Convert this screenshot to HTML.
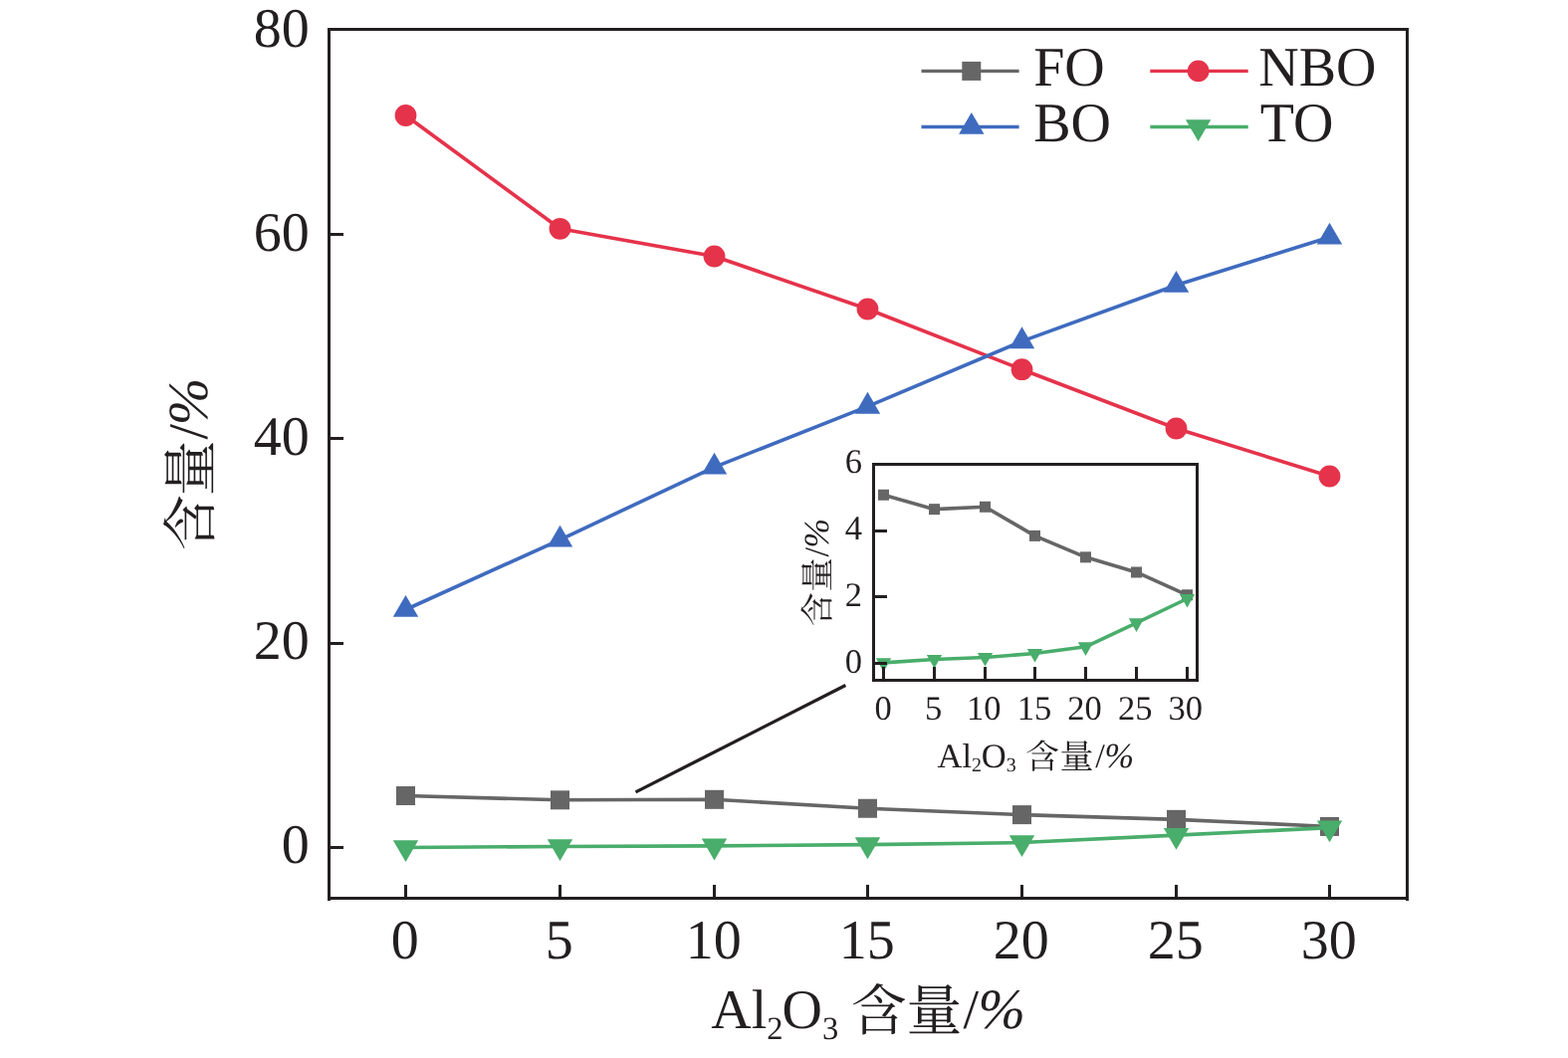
<!DOCTYPE html>
<html lang="zh-CN">
<head>
<meta charset="utf-8">
<title>Al2O3 含量 - FO / NBO / BO / TO 含量</title>
<style>
html,body{margin:0;padding:0;background:#fff;}
body{width:1575px;height:1063px;overflow:hidden;}
svg{display:block;}
svg text{font-family:"Liberation Serif", "Noto Serif CJK SC", serif;fill:#231f20;text-rendering:geometricPrecision;}
</style>
</head>
<body>
<svg width="1575" height="1063" viewBox="0 0 1575 1063">
<rect width="1575" height="1063" fill="#ffffff"/>
<g id="main-axes" stroke="#231f20" stroke-width="3" fill="none" stroke-linecap="butt">
<rect x="330.5" y="29.5" width="1083" height="873"/>
<line x1="330.5" y1="902.5" x2="330.5" y2="905"/>
<line x1="1413.5" y1="902.5" x2="1413.5" y2="905"/>
<line x1="330.5" y1="851.5" x2="345" y2="851.5"/>
<line x1="330.5" y1="646.5" x2="345" y2="646.5"/>
<line x1="330.5" y1="440.5" x2="345" y2="440.5"/>
<line x1="330.5" y1="235.5" x2="345" y2="235.5"/>
<line x1="407.5" y1="902.5" x2="407.5" y2="889"/>
<line x1="562.5" y1="902.5" x2="562.5" y2="889"/>
<line x1="717.5" y1="902.5" x2="717.5" y2="889"/>
<line x1="871.5" y1="902.5" x2="871.5" y2="889"/>
<line x1="1026.5" y1="902.5" x2="1026.5" y2="889"/>
<line x1="1181.5" y1="902.5" x2="1181.5" y2="889"/>
<line x1="1335.5" y1="902.5" x2="1335.5" y2="889"/>
</g>
<g id="main-ticklabels">
<text x="310.8" y="47.2" font-size="56" text-anchor="end">80</text>
<text x="310.8" y="252.35" font-size="56" text-anchor="end">60</text>
<text x="310.8" y="457.35" font-size="56" text-anchor="end">40</text>
<text x="310.8" y="662.2" font-size="56" text-anchor="end">20</text>
<text x="310.8" y="867.25" font-size="56" text-anchor="end">0</text>
<text x="406.7" y="962.9" font-size="56" text-anchor="middle">0</text>
<text x="561.7" y="962.9" font-size="56" text-anchor="middle">5</text>
<text x="716.7" y="962.9" font-size="56" text-anchor="middle">10</text>
<text x="870.7" y="962.9" font-size="56" text-anchor="middle">15</text>
<text x="1025.7" y="962.9" font-size="56" text-anchor="middle">20</text>
<text x="1180.7" y="962.9" font-size="56" text-anchor="middle">25</text>
<text x="1334.7" y="962.9" font-size="56" text-anchor="middle">30</text>
</g>
<g id="main-titles">
<text y="1032.9" font-size="56"><tspan x="714.2">Al</tspan><tspan font-size="32.5" dy="10.6">2</tspan><tspan dy="-10.6" dx="-0.9">O</tspan><tspan font-size="32.5" dy="10.6">3</tspan></text>
<text x="854.65 910.55" y="1034.6" font-size="55.8">含量</text>
<text x="967.4" y="1032.9" font-size="56">/<tspan font-style="italic" font-size="57" dx="-0.5">%</tspan></text>
<g transform="translate(208.4 553.1) rotate(-90)">
<text x="0 54.9" y="2.4" font-size="55.8">含量</text>
<text x="111.6" y="0" font-size="56">/<tspan font-style="italic" font-size="57" dx="-1.3">%</tspan></text>
</g>
</g>
<g id="series-nbo">
<polyline fill="none" stroke="#e5334b" stroke-width="3.6" stroke-linejoin="round" points="407.5,116 562.5,229.8 717.5,257.5 871.5,310.5 1026.5,371.2 1181.5,430.5 1335.5,478.5"/>
<circle cx="407.5" cy="116" r="10.9" fill="#e5334b"/>
<circle cx="562.5" cy="229.8" r="10.9" fill="#e5334b"/>
<circle cx="717.5" cy="257.5" r="10.9" fill="#e5334b"/>
<circle cx="871.5" cy="310.5" r="10.9" fill="#e5334b"/>
<circle cx="1026.5" cy="371.2" r="10.9" fill="#e5334b"/>
<circle cx="1181.5" cy="430.5" r="10.9" fill="#e5334b"/>
<circle cx="1335.5" cy="478.5" r="10.9" fill="#e5334b"/>
</g>
<g id="series-bo">
<polyline fill="none" stroke="#3f6bbf" stroke-width="3.6" stroke-linejoin="round" points="407.5,612.5 562.5,542.3 717.5,469.3 871.5,408.4 1026.5,342.9 1181.5,286.5 1335.5,238.2"/>
<polygon fill="#3f6bbf" points="407.5,597.97 420.2,619.77 394.8,619.77"/>
<polygon fill="#3f6bbf" points="562.5,527.77 575.2,549.57 549.8,549.57"/>
<polygon fill="#3f6bbf" points="717.5,454.77 730.2,476.57 704.8,476.57"/>
<polygon fill="#3f6bbf" points="871.5,393.87 884.2,415.67 858.8,415.67"/>
<polygon fill="#3f6bbf" points="1026.5,328.37 1039.2,350.17 1013.8,350.17"/>
<polygon fill="#3f6bbf" points="1181.5,271.97 1194.2,293.77 1168.8,293.77"/>
<polygon fill="#3f6bbf" points="1335.5,223.67 1348.2,245.47 1322.8,245.47"/>
</g>
<g id="series-fo">
<polyline fill="none" stroke="#666666" stroke-width="3.6" stroke-linejoin="round" points="407.5,799.51 562.5,803.82 717.5,803.31 871.5,812.25 1026.5,818.62 1181.5,823.35 1335.5,830.44"/>
<rect x="398" y="790.01" width="19" height="19" fill="#666666"/>
<rect x="553" y="794.32" width="19" height="19" fill="#666666"/>
<rect x="708" y="793.81" width="19" height="19" fill="#666666"/>
<rect x="862" y="802.75" width="19" height="19" fill="#666666"/>
<rect x="1017" y="809.12" width="19" height="19" fill="#666666"/>
<rect x="1172" y="813.85" width="19" height="19" fill="#666666"/>
<rect x="1326" y="820.94" width="19" height="19" fill="#666666"/>
</g>
<g id="series-to">
<polyline fill="none" stroke="#49ad6b" stroke-width="3.6" stroke-linejoin="round" points="407.5,851.5 562.5,850.47 717.5,849.86 871.5,848.62 1026.5,846.57 1181.5,839.17 1335.5,831.67"/>
<polygon fill="#49ad6b" points="407.5,866.03 420.2,844.23 394.8,844.23"/>
<polygon fill="#49ad6b" points="562.5,865.01 575.2,843.21 549.8,843.21"/>
<polygon fill="#49ad6b" points="717.5,864.39 730.2,842.59 704.8,842.59"/>
<polygon fill="#49ad6b" points="871.5,863.16 884.2,841.36 858.8,841.36"/>
<polygon fill="#49ad6b" points="1026.5,861.1 1039.2,839.3 1013.8,839.3"/>
<polygon fill="#49ad6b" points="1181.5,853.7 1194.2,831.9 1168.8,831.9"/>
<polygon fill="#49ad6b" points="1335.5,846.2 1348.2,824.4 1322.8,824.4"/>
</g>
<line id="pointer" x1="638.5" y1="795.9" x2="849.4" y2="688.5" stroke="#231f20" stroke-width="3.3"/>
<g id="legend">
<line x1="925.5" y1="71.4" x2="1023.6" y2="71.4" stroke="#666666" stroke-width="3.3"/>
<rect x="966.3" y="61.9" width="19" height="19" fill="#666666"/>
<text x="1038.2" y="86.3" font-size="56" text-anchor="start">FO</text>
<line x1="1155.3" y1="71.4" x2="1253.7" y2="71.4" stroke="#e5334b" stroke-width="3.3"/>
<circle cx="1203.6" cy="71.4" r="10.9" fill="#e5334b"/>
<text x="1264.3" y="86.3" font-size="56" text-anchor="start">NBO</text>
<line x1="925.5" y1="127.5" x2="1023.6" y2="127.5" stroke="#3f6bbf" stroke-width="3.3"/>
<polygon fill="#3f6bbf" points="975.8,112.97 988.5,134.77 963.1,134.77"/>
<text x="1038.2" y="141.5" font-size="56" text-anchor="start">BO</text>
<line x1="1155.3" y1="127.5" x2="1253.7" y2="127.5" stroke="#49ad6b" stroke-width="3.3"/>
<polygon fill="#49ad6b" points="1203.6,142.03 1216.3,120.23 1190.9,120.23"/>
<text x="1265.8" y="141.5" font-size="56" text-anchor="start">TO</text>
</g>
<rect x="877.5" y="466.5" width="325" height="217" fill="#ffffff"/>
<g id="inset-fo">
<polyline fill="none" stroke="#666666" stroke-width="3.6" stroke-linejoin="round" points="887.5,497.25 938.5,511.65 989.5,509.28 1039.5,538.38 1090.5,559.84 1141.5,574.98 1192.5,597.77"/>
<rect x="882" y="491.75" width="11" height="11" fill="#666666"/>
<rect x="933" y="506.15" width="11" height="11" fill="#666666"/>
<rect x="984" y="503.78" width="11" height="11" fill="#666666"/>
<rect x="1034" y="532.88" width="11" height="11" fill="#666666"/>
<rect x="1085" y="554.34" width="11" height="11" fill="#666666"/>
<rect x="1136" y="569.48" width="11" height="11" fill="#666666"/>
<rect x="1187" y="592.27" width="11" height="11" fill="#666666"/>
</g>
<g id="inset-to">
<polyline fill="none" stroke="#49ad6b" stroke-width="3.6" stroke-linejoin="round" points="887.5,665.83 938.5,662.5 989.5,660.5 1039.5,656.5 1090.5,649.83 1141.5,625.83 1192.5,601.5"/>
<polygon fill="#49ad6b" points="887.5,674.9 895.2,661.3 879.8,661.3"/>
<polygon fill="#49ad6b" points="938.5,671.56 946.2,657.96 930.8,657.96"/>
<polygon fill="#49ad6b" points="989.5,669.56 997.2,655.96 981.8,655.96"/>
<polygon fill="#49ad6b" points="1039.5,665.56 1047.2,651.96 1031.8,651.96"/>
<polygon fill="#49ad6b" points="1090.5,658.9 1098.2,645.3 1082.8,645.3"/>
<polygon fill="#49ad6b" points="1141.5,634.9 1149.2,621.3 1133.8,621.3"/>
<polygon fill="#49ad6b" points="1192.5,610.57 1200.2,596.97 1184.8,596.97"/>
</g>
<g id="inset-axes" stroke="#231f20" stroke-width="3" fill="none">
<rect x="877.5" y="466.5" width="325" height="217"/>
<line x1="877.5" y1="666.5" x2="891" y2="666.5"/>
<line x1="877.5" y1="599.5" x2="891" y2="599.5"/>
<line x1="877.5" y1="533.5" x2="891" y2="533.5"/>
<line x1="887.5" y1="683.5" x2="887.5" y2="670"/>
<line x1="938.5" y1="683.5" x2="938.5" y2="670"/>
<line x1="989.5" y1="683.5" x2="989.5" y2="670"/>
<line x1="1039.5" y1="683.5" x2="1039.5" y2="670"/>
<line x1="1090.5" y1="683.5" x2="1090.5" y2="670"/>
<line x1="1141.5" y1="683.5" x2="1141.5" y2="670"/>
<line x1="1192.5" y1="683.5" x2="1192.5" y2="670"/>
</g>
<g id="inset-ticklabels">
<text x="866" y="475.45" font-size="34.5" text-anchor="end">6</text>
<text x="866" y="541.7" font-size="34.5" text-anchor="end">4</text>
<text x="866" y="609" font-size="34.5" text-anchor="end">2</text>
<text x="866" y="675.9" font-size="34.5" text-anchor="end">0</text>
<text x="887.1" y="722.65" font-size="34.5" text-anchor="middle">0</text>
<text x="937.72" y="722.65" font-size="34.5" text-anchor="middle">5</text>
<text x="988.34" y="722.65" font-size="34.5" text-anchor="middle">10</text>
<text x="1038.96" y="722.65" font-size="34.5" text-anchor="middle">15</text>
<text x="1089.58" y="722.65" font-size="34.5" text-anchor="middle">20</text>
<text x="1140.2" y="722.65" font-size="34.5" text-anchor="middle">25</text>
<text x="1190.82" y="722.65" font-size="34.5" text-anchor="middle">30</text>
</g>
<g id="inset-titles">
<text y="771" font-size="34.5"><tspan x="941.6">Al</tspan><tspan font-size="20" dy="3.8">2</tspan><tspan dy="-3.8" dx="-0.3">O</tspan><tspan font-size="20" dy="3.8">3</tspan></text>
<text x="1029.9 1064.5" y="771.8" font-size="34">含量</text>
<text x="1100.2" y="771" font-size="34.5">/<tspan font-style="italic" font-size="35.5" dx="-0.4">%</tspan></text>
<g transform="translate(832.2 629.2) rotate(-90)">
<text x="0 34.6" y="0.8" font-size="34">含量</text>
<text x="69.8" y="0" font-size="34.5">/<tspan font-style="italic" font-size="35.5" dx="-0.8">%</tspan></text>
</g>
</g>
</svg>
</body>
</html>
